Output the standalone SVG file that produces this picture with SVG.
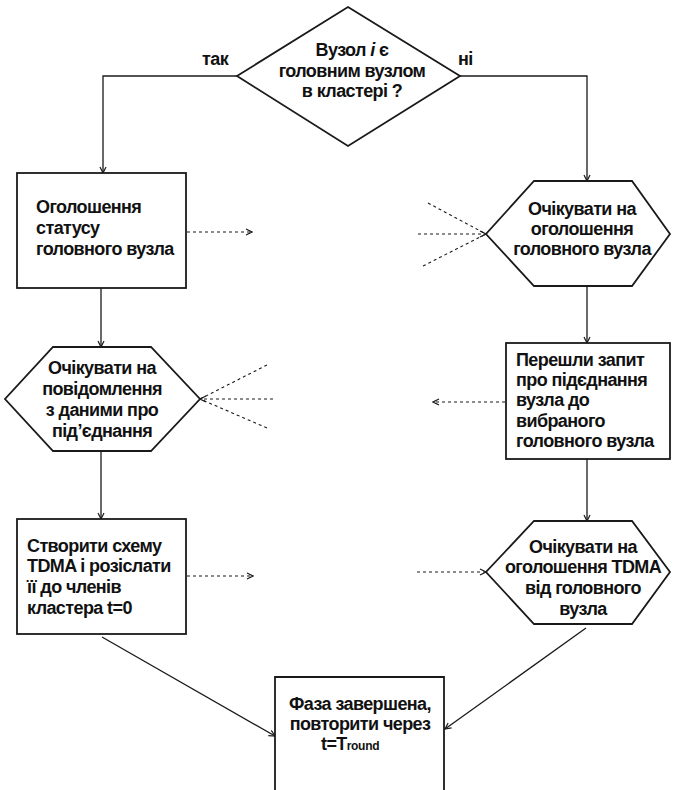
<svg xmlns="http://www.w3.org/2000/svg" width="673" height="790" viewBox="0 0 673 790">
<style>
.shape{fill:#fff;stroke:#1a1a1a;stroke-width:1.8}
.conn{fill:none;stroke:#1a1a1a;stroke-width:1.3}
.dot{fill:none;stroke:#1a1a1a;stroke-width:1.1;stroke-dasharray:3,3}
.t{font-family:"Liberation Sans",Arial,sans-serif;font-size:18px;letter-spacing:-0.6px;font-weight:bold;fill:#111}
.c{text-anchor:middle}
</style>
<defs>
<marker id="arr" markerUnits="userSpaceOnUse" markerWidth="8" markerHeight="8" refX="7" refY="4" orient="auto">
<path d="M1,1 L7,4 L1,7" fill="none" stroke="#1a1a1a" stroke-width="1.2"/>
</marker>
</defs>
<rect width="673" height="790" fill="#fff"/>
<g id="connectors">
<polyline class="conn" points="237,76 103,76 103,173" marker-end="url(#arr)"/>
<polyline class="conn" points="460,76 587,76 587,181" marker-end="url(#arr)"/>
<line class="conn" x1="101" y1="288" x2="101" y2="347" marker-end="url(#arr)"/>
<line class="conn" x1="587" y1="286" x2="587" y2="343" marker-end="url(#arr)"/>
<line class="conn" x1="101" y1="451" x2="101" y2="519" marker-end="url(#arr)"/>
<line class="conn" x1="587" y1="459" x2="587" y2="521" marker-end="url(#arr)"/>
<line class="conn" x1="102" y1="637" x2="275" y2="736" marker-end="url(#arr)"/>
<line class="conn" x1="586" y1="628" x2="445" y2="729" marker-end="url(#arr)"/>
<line class="dot" x1="187" y1="232" x2="252" y2="232" marker-end="url(#arr)"/>
<line class="dot" x1="428" y1="203" x2="486" y2="234"/>
<line class="dot" x1="418" y1="234" x2="486" y2="234" marker-end="url(#arr)"/>
<line class="dot" x1="423" y1="266" x2="486" y2="234"/>
<line class="dot" x1="505" y1="402" x2="433" y2="402" marker-end="url(#arr)"/>
<line class="dot" x1="267" y1="365" x2="200" y2="399"/>
<line class="dot" x1="273" y1="399" x2="200" y2="399" marker-end="url(#arr)"/>
<line class="dot" x1="267" y1="428" x2="200" y2="399"/>
<line class="dot" x1="187" y1="576" x2="253" y2="576" marker-end="url(#arr)"/>
<line class="dot" x1="417" y1="572" x2="486" y2="572" marker-end="url(#arr)"/>
<text class="t" x="202" y="65">так</text>
<text class="t" x="458" y="65">ні</text>
</g>
<g id="decision">
<polygon class="shape" points="348,7 460,76 348,146 237,76"/>
<text class="t c" x="352" y="56">Вузол <tspan font-style="italic">і</tspan> є</text>
<text class="t c" x="352" y="77">головним вузлом</text>
<text class="t c" x="352" y="97">в кластері ?</text>
</g>
<g id="announce">
<rect class="shape" x="17" y="173" width="169" height="115"/>
<text class="t" x="36" y="213">Оголошення</text>
<text class="t" x="36" y="234">статусу</text>
<text class="t" x="36" y="255">головного вузла</text>
</g>
<g id="waitHead">
<polygon class="shape" points="534,181 632,181 670,234 632,286 534,286 486,234"/>
<text class="t c" x="582" y="215">Очікувати на</text>
<text class="t c" x="582" y="235">оголошення</text>
<text class="t c" x="582" y="255">головного вузла</text>
</g>
<g id="waitJoin">
<polygon class="shape" points="53,347 151,347 200,399 151,451 53,451 5,399"/>
<text class="t c" x="102" y="374">Очікувати на</text>
<text class="t c" x="102" y="395">повідомлення</text>
<text class="t c" x="102" y="416">з даними про</text>
<text class="t c" x="102" y="437">під’єднання</text>
</g>
<g id="sendJoin">
<rect class="shape" x="506" y="343" width="164" height="116"/>
<text class="t" x="516" y="366">Перешли запит</text>
<text class="t" x="516" y="386">про підєднання</text>
<text class="t" x="516" y="406">вузла до</text>
<text class="t" x="516" y="427">вибраного</text>
<text class="t" x="516" y="447">головного вузла</text>
</g>
<g id="createTDMA">
<rect class="shape" x="17" y="519" width="169" height="115"/>
<text class="t" x="27" y="552">Створити схему</text>
<text class="t" x="27" y="572">TDMA і розіслати</text>
<text class="t" x="27" y="593">її до членів</text>
<text class="t" x="27" y="614">кластера t=0</text>
</g>
<g id="waitTDMA">
<polygon class="shape" points="534,521 632,521 670,572 632,624 534,624 486,572"/>
<text class="t c" x="583" y="553">Очікувати на</text>
<text class="t c" x="583" y="573">оголошення TDMA</text>
<text class="t c" x="583" y="594">від головного</text>
<text class="t c" x="583" y="615">вузла</text>
</g>
<g id="done">
<path class="shape" d="M275,795 L275,677 L444,677 L444,795"/>
<text class="t c" x="360" y="710">Фаза завершена,</text>
<text class="t c" x="360" y="730">повторити через</text>
<text class="t" x="321" y="750">t=T<tspan font-size="12" letter-spacing="-0.3">round</tspan></text>
</g>
</svg>
